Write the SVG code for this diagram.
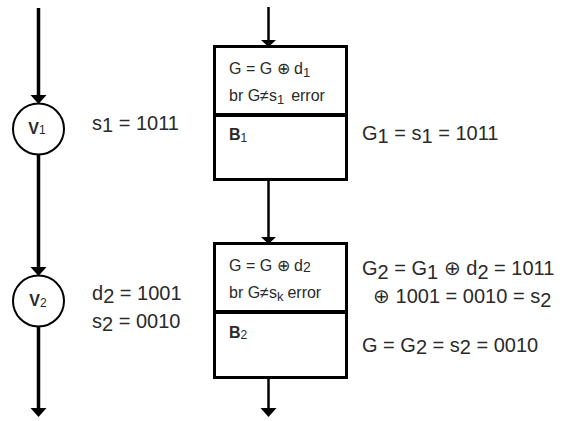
<svg xmlns="http://www.w3.org/2000/svg" width="563" height="421" viewBox="0 0 563 421">
<style>
.t{font-family:"Liberation Sans",Arial,sans-serif;fill:#2a2a2a}
.big{font-size:20px}
.sm{font-size:16px}
.box{fill:#fff;stroke:#000;stroke-width:3}
.div{stroke:#000;stroke-width:4}
.circ{fill:#fff;stroke:#000;stroke-width:2}
.thick{stroke:#000;stroke-width:3.5;fill:none}
.thin{stroke:#000;stroke-width:2.5;fill:none}
.ah{fill:#000}
</style>
<rect width="563" height="421" fill="#fff"/>
<g id="connectors">
<line class="thick" x1="38.5" y1="8" x2="38.5" y2="97"/>
<polygon class="ah" points="30.5,95 46.5,95 38.5,104"/>
<line class="thick" x1="38.5" y1="155" x2="38.5" y2="268"/>
<polygon class="ah" points="30.5,267 46.5,267 38.5,276"/>
<line class="thick" x1="38.5" y1="327" x2="38.5" y2="410"/>
<polygon class="ah" points="30.5,408 46.5,408 38.5,417"/>
<line class="thin" x1="268.5" y1="7" x2="268.5" y2="42"/>
<polygon class="ah" points="261,40 276,40 268.5,47"/>
<line class="thin" x1="268.5" y1="180" x2="268.5" y2="239"/>
<polygon class="ah" points="261,237 276,237 268.5,244"/>
<line class="thin" x1="268.5" y1="378" x2="268.5" y2="410"/>
<polygon class="ah" points="260.5,408 276.5,408 268.5,417"/>
</g>
<g id="V1">
<circle class="circ" cx="38.5" cy="129" r="25.5"/>
<text class="t" x="37" y="134" text-anchor="middle" font-size="16" font-weight="bold">V<tspan font-size="12" font-weight="normal">1</tspan></text>
</g>
<g id="V2">
<circle class="circ" cx="38.5" cy="301" r="25.5"/>
<text class="t" x="38" y="306" text-anchor="middle" font-size="16" font-weight="bold">V<tspan font-size="12" font-weight="normal" dy="1">2</tspan></text>
</g>
<g id="B1">
<rect class="box" x="214.5" y="46.5" width="132" height="133"/>
<line class="div" x1="214.5" y1="115" x2="346.5" y2="115"/>
<text class="t sm" x="229" y="74">G = G ⊕ d<tspan font-size="13" dy="3">1</tspan></text>
<text class="t sm" x="229" y="101">br G≠s<tspan font-size="13" dy="3">1</tspan><tspan dy="-3" dx="7">error</tspan></text>
<text class="t" x="229" y="140" font-size="16" font-weight="bold">B<tspan font-size="12" font-weight="normal" dy="2">1</tspan></text>
</g>
<g id="B2">
<rect class="box" x="214.5" y="243.5" width="132" height="134"/>
<line class="div" x1="214.5" y1="312" x2="346.5" y2="312"/>
<text class="t sm" x="229" y="271">G = G ⊕ d<tspan font-size="14" dy="1">2</tspan></text>
<text class="t sm" x="229" y="298">br G≠s<tspan font-size="13" dy="3">k</tspan><tspan dy="-3" dx="4">error</tspan></text>
<text class="t" x="229" y="338" font-size="16" font-weight="bold">B<tspan font-size="12" font-weight="normal" dy="1">2</tspan></text>
</g>
<g id="labels">
<text class="t big" x="92" y="130">s<tspan dy="2">1</tspan><tspan dy="-2"> = 1011</tspan></text>
<text class="t big" x="92" y="300">d<tspan dy="3">2</tspan><tspan dy="-3"> = 1001</tspan></text>
<text class="t big" x="92" y="328">s<tspan dy="3">2</tspan><tspan dy="-3"> = 0010</tspan></text>
<text class="t big" x="362" y="140">G<tspan dy="3">1</tspan><tspan dy="-3"> = s</tspan><tspan dy="3">1</tspan><tspan dy="-3"> = 1011</tspan></text>
<text class="t big" x="362" y="275">G<tspan dy="4">2</tspan><tspan dy="-4"> = G</tspan><tspan dy="4">1</tspan><tspan dy="-4"> ⊕ d</tspan><tspan dy="4">2</tspan><tspan dy="-4"> = 1011</tspan></text>
<text class="t big" x="373" y="303">⊕ 1001 = 0010 = s<tspan dy="4">2</tspan></text>
<text class="t big" x="362" y="352">G = G<tspan dy="2">2</tspan><tspan dy="-2"> = s</tspan><tspan dy="2">2</tspan><tspan dy="-2"> = 0010</tspan></text>
</g>
</svg>
